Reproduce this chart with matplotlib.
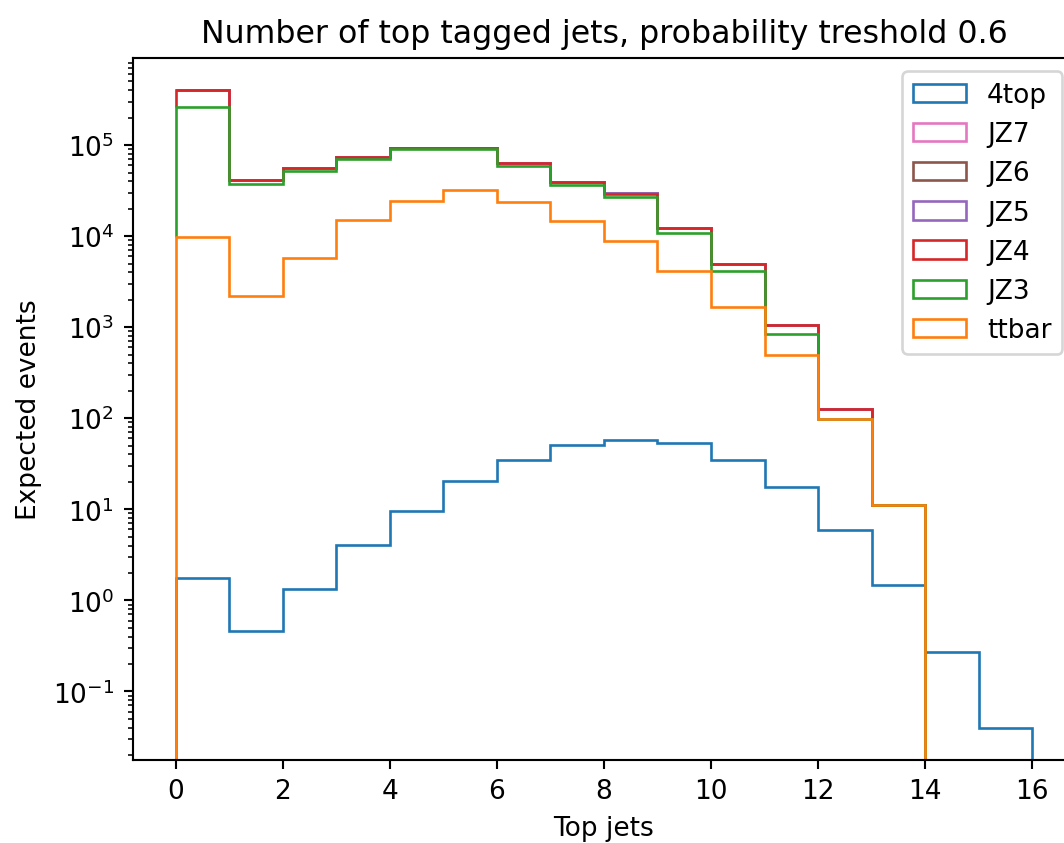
import numpy as np
import matplotlib
matplotlib.use("Agg")
import matplotlib.pyplot as plt

# bin edges: number of top tagged jets
edges = np.arange(0, 17)
centers = edges[:-1] + 0.5

# expected events per bin for each sample
n_4top = [1.77, 0.465, 1.34, 4.1, 9.6, 20.7, 34.9, 51.4, 58.3, 54.0, 34.9, 17.4, 5.95, 1.49, 0.271, 0.0398]
n_ttbar = [9700, 2190, 5690, 14900, 24300, 32400, 23900, 14800, 8800, 4170, 1650, 500, 97.5, 11.1, 0, 0]
n_jz3 = [254300, 35500, 46700, 54800, 65400, 57300, 34900, 21500, 18000, 6630, 2490, 332, 0.5, 0, 0, 0]
n_jz4 = [136000, 3500, 3100, 3600, 3900, 3900, 4200, 3300, 2600, 1400, 820, 218, 28, 0, 0, 0]
n_jz5 = [900, 150, 120, 150, 180, 170, 160, 120, 90, 40, 20, 5, 0.5, 0, 0, 0]
n_jz6 = [60, 10, 8, 10, 12, 11, 10, 8, 6, 3, 1.5, 0.4, 0.05, 0, 0, 0]
n_jz7 = [5, 1, 0.8, 1, 1.2, 1.1, 1, 0.8, 0.6, 0.3, 0.15, 0.04, 0.005, 0, 0, 0]

bkg_names = ["ttbar", "JZ3", "JZ4", "JZ5", "JZ6", "JZ7"]
bkg_values = [n_ttbar, n_jz3, n_jz4, n_jz5, n_jz6, n_jz7]
bkg_colors = ["C1", "C2", "C3", "C4", "C5", "C6"]

dpi = 190
fig = plt.figure(figsize=(1064 / dpi, 844 / dpi), dpi=dpi)
ax = fig.add_axes([132.7 / 1064, 83.3 / 844, 942.4 / 1064, 701.4 / 844])

ax.hist(centers, bins=edges, weights=n_4top, histtype="step", log=True,
        color="C0", label="4top")
ax.hist([centers] * len(bkg_values), bins=edges, weights=bkg_values,
        histtype="step", stacked=True, log=True,
        color=bkg_colors, label=bkg_names)

ax.set_title("Number of top tagged jets, probability treshold 0.6")
ax.set_xlabel("Top jets")
ax.set_ylabel("Expected events")
ax.legend(loc="upper right")

fig.savefig("out.png", dpi=dpi)
plt.close(fig)
